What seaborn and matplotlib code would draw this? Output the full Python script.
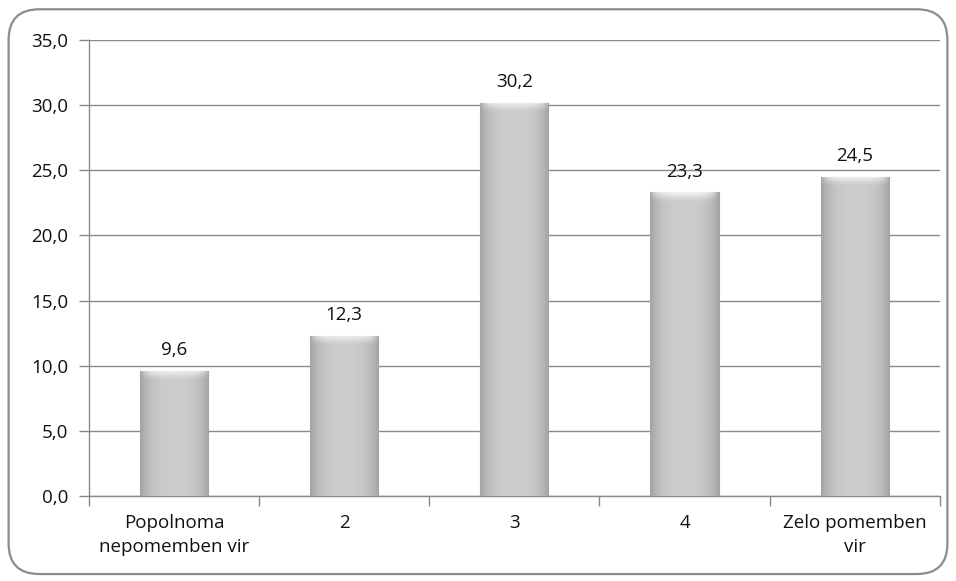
import numpy as np
import pandas as pd
import matplotlib
matplotlib.use("Agg")
import matplotlib.pyplot as plt
from matplotlib.patches import FancyBboxPatch
import seaborn as sns

categories = ["Popolnoma\nnepomemben vir", "2", "3", "4", "Zelo pomemben\nvir"]
values = [9.6, 12.3, 30.2, 23.3, 24.5]
y_ticks = [0, 5, 10, 15, 20, 25, 30, 35]

sns.set_theme(style="white")
plt.rcParams["font.family"] = ["Open Sans", "DejaVu Sans"]
FS = 13.5

df = pd.DataFrame({"kategorija": categories, "delez": values})

fig = plt.figure(figsize=(9.56, 5.81), dpi=100)
ax = fig.add_axes([0.0931, 0.1463, 0.8899, 0.7847])

sns.barplot(data=df, x="kategorija", y="delez", color="#c4c4c4", width=0.4,
            saturation=1, ax=ax, zorder=3)

# horizontal shading: light centre, darker sides
gx = np.linspace(-1, 1, 200)
prof = 0.80 - 0.16 * np.abs(gx) ** 3
img = np.tile(prof, (50, 1))

# top bevel: white fading downwards
bevel = np.zeros((40, 200, 4))
fade = np.linspace(0.85, 0, 40) ** 1.5
bevel[..., :3] = 1.0
bevel[..., 3] = fade[:, None] * (1 - np.abs(gx) ** 6)[None, :]

for p in ax.patches:
    x0, y0 = p.get_x(), p.get_y()
    w, h = p.get_width(), p.get_height()
    im = ax.imshow(img, extent=[x0, x0 + w, y0, y0 + h], aspect="auto",
                   cmap="gray", vmin=0.0, vmax=1.0, zorder=4, interpolation="bicubic")
    im.set_clip_path(p)
    bv = ax.imshow(bevel, extent=[x0, x0 + w, y0 + h - 0.8, y0 + h], aspect="auto",
                   zorder=5, interpolation="bicubic")
    bv.set_clip_path(p)
    p.set_edgecolor("#a5a5a5")
    p.set_linewidth(0.8)

for i, v in enumerate(values):
    ax.text(i, v + 0.9, f"{v:.1f}".replace(".", ","), ha="center", va="bottom",
            fontsize=FS, color="#111111", zorder=6)

ax.set_xlim(-0.5, len(categories) - 0.5)
ax.set_ylim(0, 35)
ax.set_yticks(y_ticks)
ax.set_yticklabels([f"{t:.1f}".replace(".", ",") for t in y_ticks], fontsize=FS, color="#111111")
ax.set_xticks(range(len(categories)))
ax.set_xticklabels(categories, fontsize=FS, color="#111111", linespacing=1.45)
ax.tick_params(axis="x", length=0, pad=13)
ax.tick_params(axis="y", length=7, width=1, color="#888888", pad=8, left=True)
ax.set_xticks(np.arange(-0.5, len(categories), 1), minor=True)
ax.tick_params(axis="x", which="minor", length=7, width=1, color="#888888", bottom=True)
ax.set_xlabel("")
ax.set_ylabel("")

ax.grid(axis="y", color="#8a8a8a", linewidth=1, zorder=0)
ax.set_axisbelow(True)
for s in ["top", "right"]:
    ax.spines[s].set_visible(False)
for s in ["left", "bottom"]:
    ax.spines[s].set_color("#8a8a8a")
    ax.spines[s].set_linewidth(1)

frame = FancyBboxPatch((0.009, 0.012), 0.982, 0.972, transform=fig.transFigure,
                       boxstyle="round,pad=0,rounding_size=0.032", facecolor="none",
                       edgecolor="#8c8c8c", linewidth=1.6, mutation_aspect=956 / 581)
fig.patches.append(frame)

fig.savefig("out.png", dpi=100)
